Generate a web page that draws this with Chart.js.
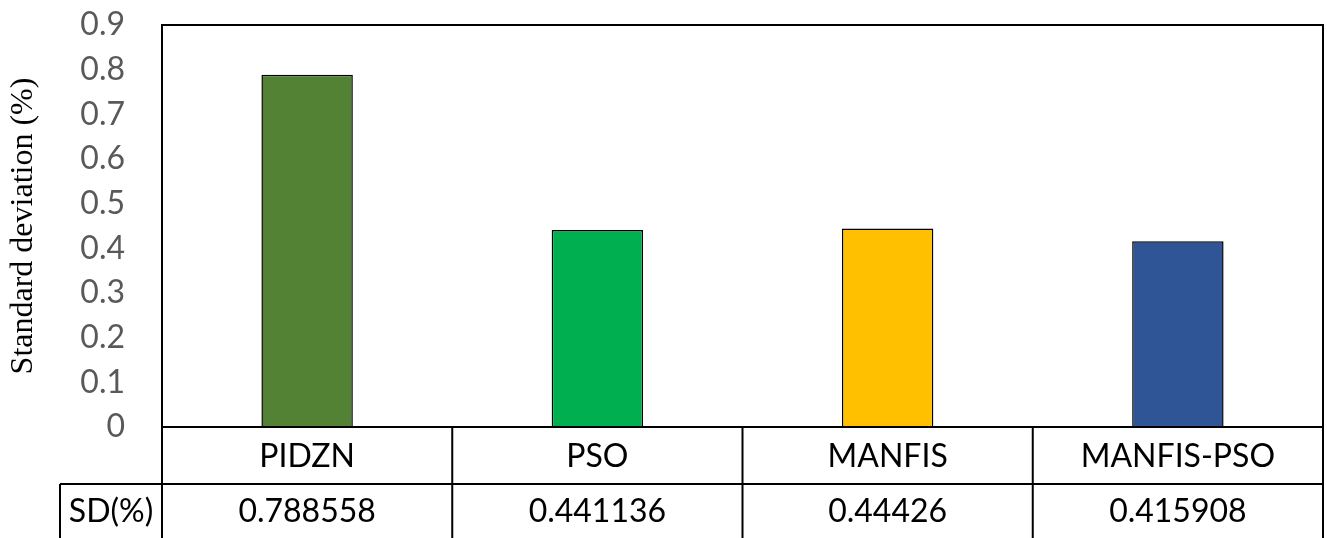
<!DOCTYPE html>
<html>
<head>
<meta charset="utf-8">
<script src="https://cdn.jsdelivr.net/npm/chart.js@4"></script>
<style>
  html, body { margin: 0; padding: 0; background: #fff; }
  #wrap { width: 1327px; height: 538px; }
</style>
</head>
<body>
<div id="wrap"><canvas id="sdChart" width="1327" height="538"></canvas></div>
<script>
// --- data ---
const methods = ["PIDZN", "PSO", "MANFIS", "MANFIS-PSO"];
const sdValues = [0.788558, 0.441136, 0.44426, 0.415908];
const sdLabels = ["0.788558", "0.441136", "0.44426", "0.415908"];
const barColors = ["#548235", "#00B050", "#FFC000", "#2F5597"];
const rowHeader = "SD(%)";
const yTicks = [0, 0.1, 0.2, 0.3, 0.4, 0.5, 0.6, 0.7, 0.8, 0.9];

const tableFont = "32px Lato, 'Open Sans', sans-serif";

// frame round the plot + the data table under it
const tablePlugin = {
  id: "dataTable",
  afterDraw(chart) {
    const { ctx, chartArea } = chart;
    const x = chart.scales.x;
    const half = (x.getPixelForValue(1) - x.getPixelForValue(0)) / 2;
    const L = chartArea.left, R = chartArea.right, T = chartArea.top, B = chartArea.bottom;
    const row1 = B + 57, row2 = chart.height + 2;
    const headLeft = 60;

    ctx.save();
    ctx.strokeStyle = "#000";
    ctx.lineWidth = 2;
    ctx.beginPath();
    // plot frame
    ctx.moveTo(L, B); ctx.lineTo(L, T); ctx.lineTo(R, T); ctx.lineTo(R, B);
    // table rows
    ctx.moveTo(L, B); ctx.lineTo(R, B);
    ctx.moveTo(headLeft, row1); ctx.lineTo(R, row1);
    ctx.moveTo(headLeft, row1); ctx.lineTo(headLeft, row2);
    methods.forEach((m, i) => {
      const cx = x.getPixelForValue(i);
      ctx.moveTo(cx - half, B); ctx.lineTo(cx - half, row2);
    });
    ctx.moveTo(R, B); ctx.lineTo(R, row2);
    ctx.stroke();

    ctx.fillStyle = "#000";
    ctx.font = tableFont;
    ctx.textAlign = "center";
    ctx.textBaseline = "middle";
    methods.forEach((m, i) => {
      const cx = x.getPixelForValue(i);
      ctx.fillText(m, cx, (B + row1) / 2 + 1);
      ctx.fillText(sdLabels[i], cx, (row1 + chart.height) / 2 + 1);
    });
    ctx.fillText(rowHeader, (headLeft + L) / 2, (row1 + chart.height) / 2 + 1);
    ctx.restore();
  }
};

new Chart(document.getElementById("sdChart"), {
  type: "bar",
  data: {
    labels: methods,
    datasets: [{
      label: "SD(%)",
      data: sdValues,
      backgroundColor: barColors,
      borderColor: "#000",
      borderWidth: 1.5,
      barPercentage: 0.315,
      categoryPercentage: 1
    }]
  },
  options: {
    responsive: false,
    animation: false,
    layout: { padding: { top: 25, right: 4, bottom: 111, left: 0 } },
    plugins: {
      legend: { display: false },
      tooltip: { enabled: false }
    },
    scales: {
      x: { display: false },
      y: {
        min: 0,
        max: 0.9,
        afterFit: s => { s.width = 162; s.paddingTop = 0; s.paddingBottom = 0; },
        afterBuildTicks: s => { s.ticks = yTicks.map(v => ({ value: v })); },
        grid: { display: false, drawTicks: false },
        border: { display: false },
        ticks: {
          color: "#595959",
          padding: 37,
          font: { family: "Lato, 'Open Sans', sans-serif", size: 32 },
          callback: v => String(Math.round(v * 10) / 10)
        },
        title: {
          display: true,
          text: "Standard deviation (%)",
          color: "#000",
          padding: { top: 4, bottom: 0 },
          font: { family: "'Liberation Serif', 'DejaVu Serif', serif", size: 32 }
        }
      }
    }
  },
  plugins: [tablePlugin]
});
</script>
</body>
</html>
